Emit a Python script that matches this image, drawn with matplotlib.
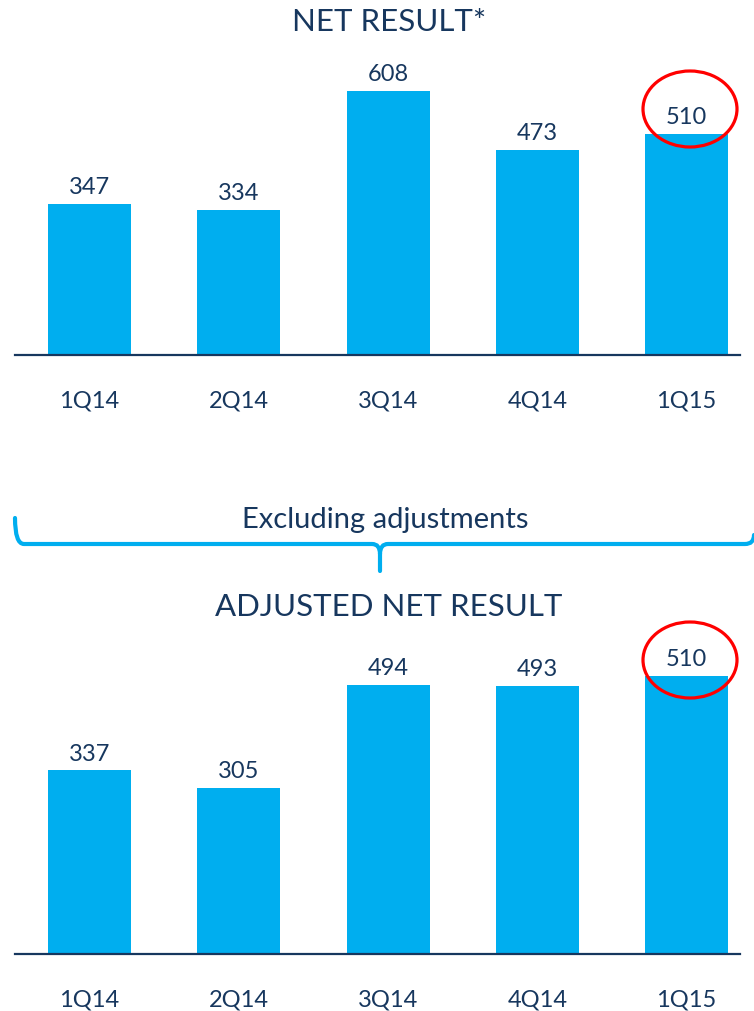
import numpy as np
import matplotlib.pyplot as plt
from matplotlib.patches import Ellipse, PathPatch
from matplotlib.path import Path

quarters = ["1Q14", "2Q14", "3Q14", "4Q14", "1Q15"]
net_result = [347, 334, 608, 473, 510]
adjusted_net_result = [337, 305, 494, 493, 510]

BAR_COLOR = "#00AEEF"
TEXT_COLOR = "#17375E"
RED = "#FF0000"

plt.rcParams["font.family"] = ["Lato", "DejaVu Sans"]

W, H = 754, 1012
fig = plt.figure(figsize=(W / 100, H / 100), dpi=100)


def fx(px):
    return px / W


def fy(py):
    return 1 - py / H


def draw_panel(values, title, base_px, top_px, ymax, title_y):
    left, right = 15, 740
    ax = fig.add_axes([fx(left), fy(base_px), fx(right - left), (base_px - top_px) / H])
    x = np.arange(len(values))
    ax.bar(x, values, width=0.556, color=BAR_COLOR)
    ax.set_xlim(-0.499, 4.358)
    ax.set_ylim(0, ymax)
    for xi, v in zip(x, values):
        ax.annotate(str(v), (xi, v), xytext=(0, 5), textcoords="offset points",
                    ha="center", va="bottom", fontsize=17, color=TEXT_COLOR)
    ax.set_xticks(x, quarters, fontsize=17, color=TEXT_COLOR)
    ax.tick_params(axis="x", length=0, pad=25)
    ax.set_yticks([])
    for s in ["top", "right", "left"]:
        ax.spines[s].set_visible(False)
    ax.spines["bottom"].set_color(TEXT_COLOR)
    ax.spines["bottom"].set_linewidth(1.6)
    fig.text(fx(389), fy(title_y), title, ha="center", va="center", fontsize=22.5, color=TEXT_COLOR)
    return ax


ax1 = draw_panel(net_result, "NET RESULT*", 356, 60, 608 * (356 - 60) / (356 - 92), 22)
ax2 = draw_panel(adjusted_net_result, "ADJUSTED NET RESULT", 955, 630, 494 * (955 - 630) / (955 - 686), 607)

# red circles around latest quarter
for cy in (110, 661):
    fig.patches.append(Ellipse((fx(690), fy(cy)), fx(94), 76 / H, transform=fig.transFigure,
                               fill=False, edgecolor=RED, linewidth=2.3))

# brace
pts = [(15, 519), (15, 545), (24, 545), (372, 545), (380, 545), (380, 555), (380, 572),
       (380, 555), (380, 545), (388, 545), (745, 545), (754, 545), (754, 536)]
codes = [Path.MOVETO, Path.CURVE3, Path.CURVE3, Path.LINETO, Path.CURVE3, Path.CURVE3, Path.LINETO,
         Path.MOVETO, Path.CURVE3, Path.CURVE3, Path.LINETO, Path.CURVE3, Path.CURVE3]
verts = [(fx(a), fy(b)) for a, b in pts]
fig.patches.append(PathPatch(Path(verts, codes), transform=fig.transFigure, fill=False,
                             edgecolor=BAR_COLOR, linewidth=3, capstyle="round"))
fig.text(fx(385), fy(520), "Excluding adjustments", ha="center", va="center", fontsize=21,
         color=TEXT_COLOR)

fig.savefig("out.png", dpi=100)
